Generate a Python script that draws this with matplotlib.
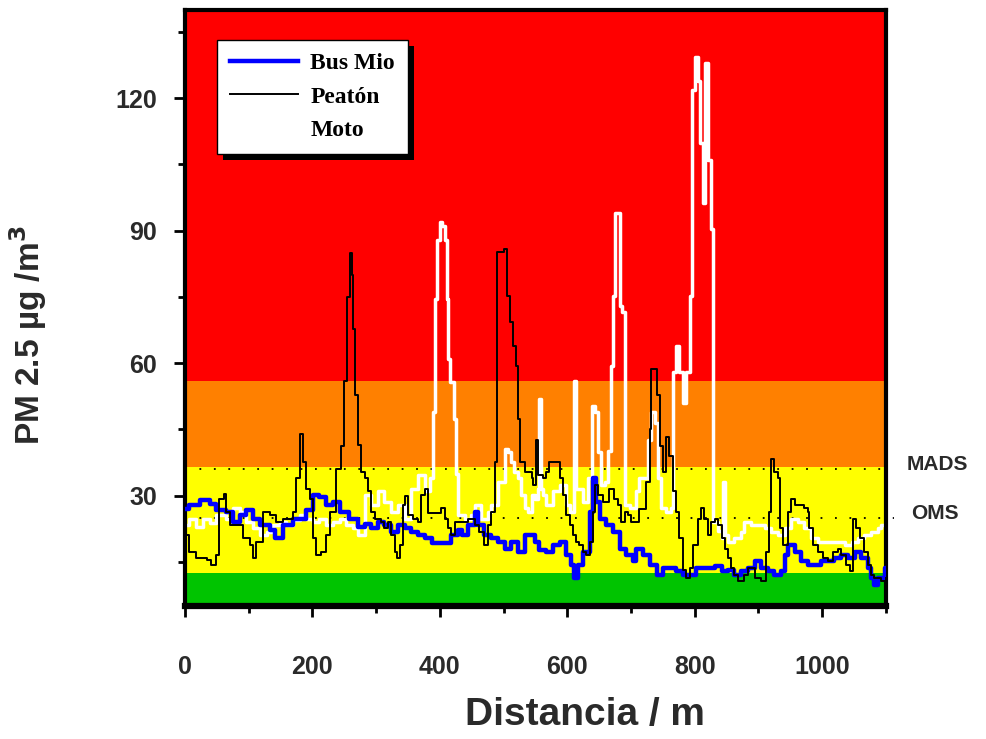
import matplotlib
matplotlib.use('Agg')
import matplotlib.pyplot as plt
from matplotlib.patches import Rectangle
from matplotlib.ticker import MultipleLocator
from matplotlib.transforms import IdentityTransform

plt.rcParams['font.family'] = ['Liberation Sans', 'DejaVu Sans']

# --- datos (distancia en m, PM2.5 en ug/m3) ---
dist_bus = [0, 7, 23, 39, 49, 65, 75, 86, 96, 107, 117, 133, 141, 154, 170, 190,
            201, 211, 222, 232, 243, 258, 271, 282, 292, 303, 313, 324, 334, 345,
            355, 366, 376, 387, 408, 418, 428, 434, 444, 455, 460, 470, 481, 491,
            502, 512, 522, 533, 544, 550, 556, 567, 577, 588, 598, 606, 611, 617,
            625, 635, 640, 645, 651, 661, 672, 682, 692, 703, 708, 719, 729, 740,
            750, 771, 781, 802, 821, 831, 842, 852, 862, 873, 883, 894, 904, 915,
            925, 936, 941, 946, 957, 967, 978, 988, 998, 1009, 1019, 1030, 1040,
            1051, 1061, 1072, 1077, 1082, 1087, 1098, 1100]
pm_bus = [27.0, 27.8, 29.0, 28.2, 26.7, 26.3, 24.1, 25.6, 26.7, 24.8, 23.3, 22.2,
          20.3, 23.3, 24.8, 26.7, 30.1, 29.7, 27.8, 28.6, 26.3, 24.8, 23.0, 23.6,
          22.6, 24.1, 23.3, 21.8, 23.3, 22.6, 21.8, 21.0, 20.3, 19.2, 19.2, 21.0,
          22.2, 21.0, 23.3, 26.3, 23.3, 21.0, 20.3, 19.6, 18.0, 19.6, 17.3, 21.0,
          21.0, 19.6, 17.7, 17.3, 18.8, 19.6, 16.5, 14.3, 11.3, 14.3, 17.3, 26.3,
          33.9, 28.6, 24.8, 23.3, 21.8, 18.0, 16.5, 15.1, 18.0, 16.5, 14.3, 12.1,
          13.6, 12.9, 12.1, 13.6, 13.6, 14.0, 12.9, 13.2, 12.1, 12.9, 13.6, 15.1,
          13.6, 12.9, 12.1, 12.9, 16.5, 18.8, 17.3, 15.1, 14.3, 14.3, 15.1, 15.1,
          15.8, 16.5, 15.8, 17.3, 15.8, 13.6, 11.3, 9.8, 11.3, 13.6, 12.9]

dist_peaton = [0, 2, 7, 18, 34, 41, 49, 54, 62, 65, 70, 81, 91, 102, 107, 112,
               122, 133, 143, 154, 170, 175, 180, 185, 190, 196, 201, 206, 214,
               222, 227, 237, 245, 250, 255, 259, 262, 264, 267, 272, 277, 282,
               287, 292, 298, 308, 313, 319, 324, 329, 332, 337, 342, 345, 350,
               358, 366, 371, 376, 381, 402, 408, 413, 418, 423, 444, 455, 462,
               470, 475, 481, 486, 489, 490, 500, 505, 510, 515, 520, 523, 526,
               533, 544, 546, 551, 554, 562, 567, 572, 583, 588, 593, 598, 604,
               609, 614, 619, 625, 630, 635, 640, 643, 648, 656, 666, 674, 679,
               685, 690, 695, 700, 712, 724, 729, 732, 740, 745, 750, 755, 760,
               766, 771, 776, 781, 787, 792, 797, 805, 810, 815, 821, 826, 831,
               836, 842, 847, 852, 857, 862, 868, 878, 883, 894, 904, 912, 917,
               920, 923, 925, 930, 933, 938, 944, 946, 951, 957, 972, 978, 980,
               985, 993, 1001, 1009, 1017, 1025, 1030, 1038, 1043, 1048, 1053,
               1059, 1066, 1072, 1077, 1082, 1093, 1100]
pm_peaton = [25.0, 21.0, 17.3, 15.8, 15.5, 14.3, 16.5, 29.3, 30.4, 26.3, 23.3,
             23.3, 20.3, 18.8, 15.8, 19.6, 26.3, 25.6, 24.1, 24.8, 26.3, 33.9,
             44.0, 37.6, 31.6, 29.3, 20.3, 16.5, 17.3, 21.0, 26.3, 36.0, 41.3,
             56.0, 75.0, 85.0, 80.0, 67.7, 52.7, 41.4, 35.4, 33.9, 31.0, 26.3,
             24.8, 24.1, 22.6, 24.1, 21.0, 17.3, 15.8, 18.8, 27.8, 30.0, 25.6,
             24.8, 24.1, 30.1, 31.6, 26.0, 27.1, 24.8, 22.6, 21.0, 24.1, 24.8,
             23.3, 21.8, 18.8, 23.3, 26.3, 37.7, 67.7, 85.1, 85.8, 75.2, 69.3,
             64.0, 59.4, 47.4, 37.7, 35.4, 33.9, 32.4, 42.6, 34.6, 33.9, 35.4,
             37.6, 37.6, 33.9, 30.1, 25.6, 23.3, 21.0, 19.6, 18.8, 17.3, 16.5,
             19.6, 26.3, 32.4, 30.1, 28.6, 31.6, 29.3, 27.8, 24.1, 26.3, 25.6,
             24.1, 27.0, 33.1, 45.0, 58.7, 52.7, 41.3, 35.4, 43.3, 39.0, 31.0,
             26.3, 20.3, 13.1, 11.3, 13.6, 18.8, 24.8, 27.1, 24.8, 21.0, 24.1,
             24.8, 23.3, 20.3, 18.0, 15.8, 13.6, 12.1, 10.6, 12.1, 13.6, 11.3,
             10.6, 17.3, 26.3, 38.3, 38.3, 35.4, 33.9, 22.6, 18.8, 18.8, 26.3,
             29.3, 27.8, 27.1, 26.3, 22.6, 18.8, 17.3, 15.8, 15.1, 17.3, 18.0,
             16.5, 14.3, 12.9, 24.8, 22.6, 20.3, 17.3, 14.3, 12.1, 11.3, 10.6,
             11.3]

dist_moto = [0, 7, 18, 28, 39, 49, 65, 75, 86, 96, 107, 117, 128, 138, 149, 159,
             170, 180, 190, 201, 211, 222, 232, 243, 253, 264, 272, 282, 292, 303,
             313, 324, 334, 345, 355, 366, 376, 384, 389, 392, 396, 400, 404, 408,
             411, 413, 416, 422, 425, 428, 439, 449, 455, 465, 475, 481, 491, 502,
             507, 512, 517, 522, 528, 533, 538, 544, 549, 554, 556, 559, 562, 567,
             577, 588, 598, 604, 611, 614, 625, 632, 638, 643, 648, 653, 659, 664,
             668, 671, 675, 683, 686, 690, 698, 708, 713, 721, 726, 731, 737, 742,
             747, 755, 762, 766, 771, 776, 782, 787, 792, 795, 800, 805, 808, 813,
             816, 821, 825, 828, 836, 842, 844, 847, 852, 862, 873, 878, 889, 899,
             910, 920, 931, 941, 951, 962, 972, 983, 993, 1014, 1025, 1035, 1046,
             1056, 1066, 1077, 1087, 1093, 1100]
pm_moto = [23.3, 24.8, 22.9, 24.8, 23.7, 25.6, 24.8, 27.1, 26.3, 24.1, 22.6, 21.0,
           21.8, 23.3, 24.1, 23.3, 24.4, 25.6, 24.8, 24.1, 24.8, 23.3, 24.1, 24.8,
           23.3, 22.6, 21.0, 30.1, 27.8, 31.0, 28.6, 26.3, 27.8, 24.8, 31.6, 34.6,
           31.0, 33.9, 48.9, 74.5, 88.0, 91.9, 91.0, 88.0, 74.5, 61.0, 55.7, 47.4,
           35.0, 25.6, 24.8, 25.6, 27.8, 24.8, 26.3, 27.8, 33.1, 40.6, 39.9, 37.6,
           35.4, 33.9, 30.1, 27.1, 26.3, 30.1, 29.3, 31.6, 51.8, 31.6, 30.1, 27.8,
           31.0, 32.4, 27.8, 26.3, 56.0, 31.6, 28.6, 33.9, 50.4, 48.9, 39.9, 32.4,
           33.0, 40.0, 59.4, 75.2, 94.0, 73.0, 71.5, 27.8, 27.1, 31.0, 33.9, 34.0,
           42.6, 48.9, 46.4, 33.9, 27.1, 26.3, 27.1, 58.0, 64.0, 58.0, 51.0, 58.0,
           75.2, 121.9, 129.4, 124.0, 109.9, 96.3, 127.9, 106.0, 90.3, 24.1, 22.0,
           20.3, 33.1, 21.0, 19.6, 20.3, 21.8, 24.1, 23.3, 23.3, 22.6, 21.8, 21.0,
           22.6, 24.8, 24.1, 22.6, 20.3, 19.6, 19.6, 19.6, 18.8, 19.6, 20.3, 21.0,
           21.8, 22.6, 23.3, 23.3]

# franjas de calidad del aire y normas
band_edges = [5, 12.5, 36.5, 56, 140]
band_colors = ['#00c400', '#ffff00', '#ff8000', '#ff0000']
norm_names = ['MADS', 'OMS']
norm_values = [36, 25]

fig = plt.figure(figsize=(9.87, 7.39), dpi=100)
ax = fig.add_axes([0.1874, 0.18, 0.7102, 0.8065])

for lo, hi, c in zip(band_edges[:-1], band_edges[1:], band_colors):
    ax.axhspan(lo, hi, color=c, lw=0, zorder=0)

# lineas punteadas de las normas
for name, val in zip(norm_names, norm_values):
    x_end = 1112 if name == 'OMS' else 1100
    ax.plot([0, x_end], [val, val], ls=(0, (1, 7)), color='black', lw=1.3,
            zorder=1.5, clip_on=False)
    ax.text(1133 if name == 'MADS' else 1140, val + 1.0, name, fontsize=15,
            fontweight='bold', color='#2a2a2a', va='center', clip_on=False)

l_moto, = ax.plot(dist_moto, pm_moto, color='white', lw=2.5,
                  drawstyle='steps-post', zorder=2, label='Moto')
l_bus, = ax.plot(dist_bus, pm_bus, color='#0000ff', lw=3.2,
                 drawstyle='steps-post', zorder=3, label='Bus Mio')
l_pea, = ax.plot(dist_peaton, pm_peaton, color='black', lw=1.4,
                 drawstyle='steps-post', zorder=4, label='Peatón')

ax.set_xlim(0, 1100)
ax.set_ylim(5, 140)
ax.set_xticks([0, 200, 400, 600, 800, 1000])
ax.xaxis.set_minor_locator(MultipleLocator(100))
ax.set_yticks([30, 60, 90, 120])
ax.yaxis.set_minor_locator(MultipleLocator(15))

ax.tick_params(which='both', direction='out', width=2, colors='black',
               labelcolor='#2a2a2a', labelsize=18)
ax.tick_params(which='major', length=8)
ax.tick_params(which='minor', length=5)
ax.tick_params(axis='x', pad=27)
ax.tick_params(axis='y', pad=12)
for lbl in ax.get_xticklabels() + ax.get_yticklabels():
    lbl.set_fontweight('bold')

for side in ['left', 'right', 'top']:
    ax.spines[side].set_linewidth(3)
ax.spines['bottom'].set_linewidth(4.5)

ax.set_xlabel('Distancia / m', fontsize=28, fontweight='bold', color='#2a2a2a')
ax.xaxis.set_label_coords(0.571, -0.183)
ax.xaxis.label.set_va('center')
ax.set_ylabel('PM 2.5 µg /m$^\\mathbf{3}$', fontsize=24, fontweight='bold',
              color='#2a2a2a')
ax.yaxis.set_label_coords(-0.224, 0.455)
ax.yaxis.label.set_va('center')

leg = ax.legend(handles=[l_bus, l_pea, l_moto], loc='upper left',
                bbox_to_anchor=(0.0456, 0.95), borderaxespad=0, fancybox=False,
                edgecolor='black', framealpha=1, handlelength=2.9,
                handletextpad=0.5, labelspacing=0.5, borderpad=0.55,
                prop={'family': 'Liberation Serif', 'weight': 'bold', 'size': 17})
leg.get_frame().set_linewidth(1.0)
leg.set_zorder(6)

# sombra negra del recuadro de la leyenda
fig.canvas.draw()
bb = leg.get_frame().get_window_extent()
ax.add_artist(Rectangle((bb.x0 + 6, bb.y0 - 6), bb.width, bb.height,
                        transform=IdentityTransform(), facecolor='black',
                        edgecolor='none', zorder=5.5))

fig.savefig('out.png', dpi=100)
